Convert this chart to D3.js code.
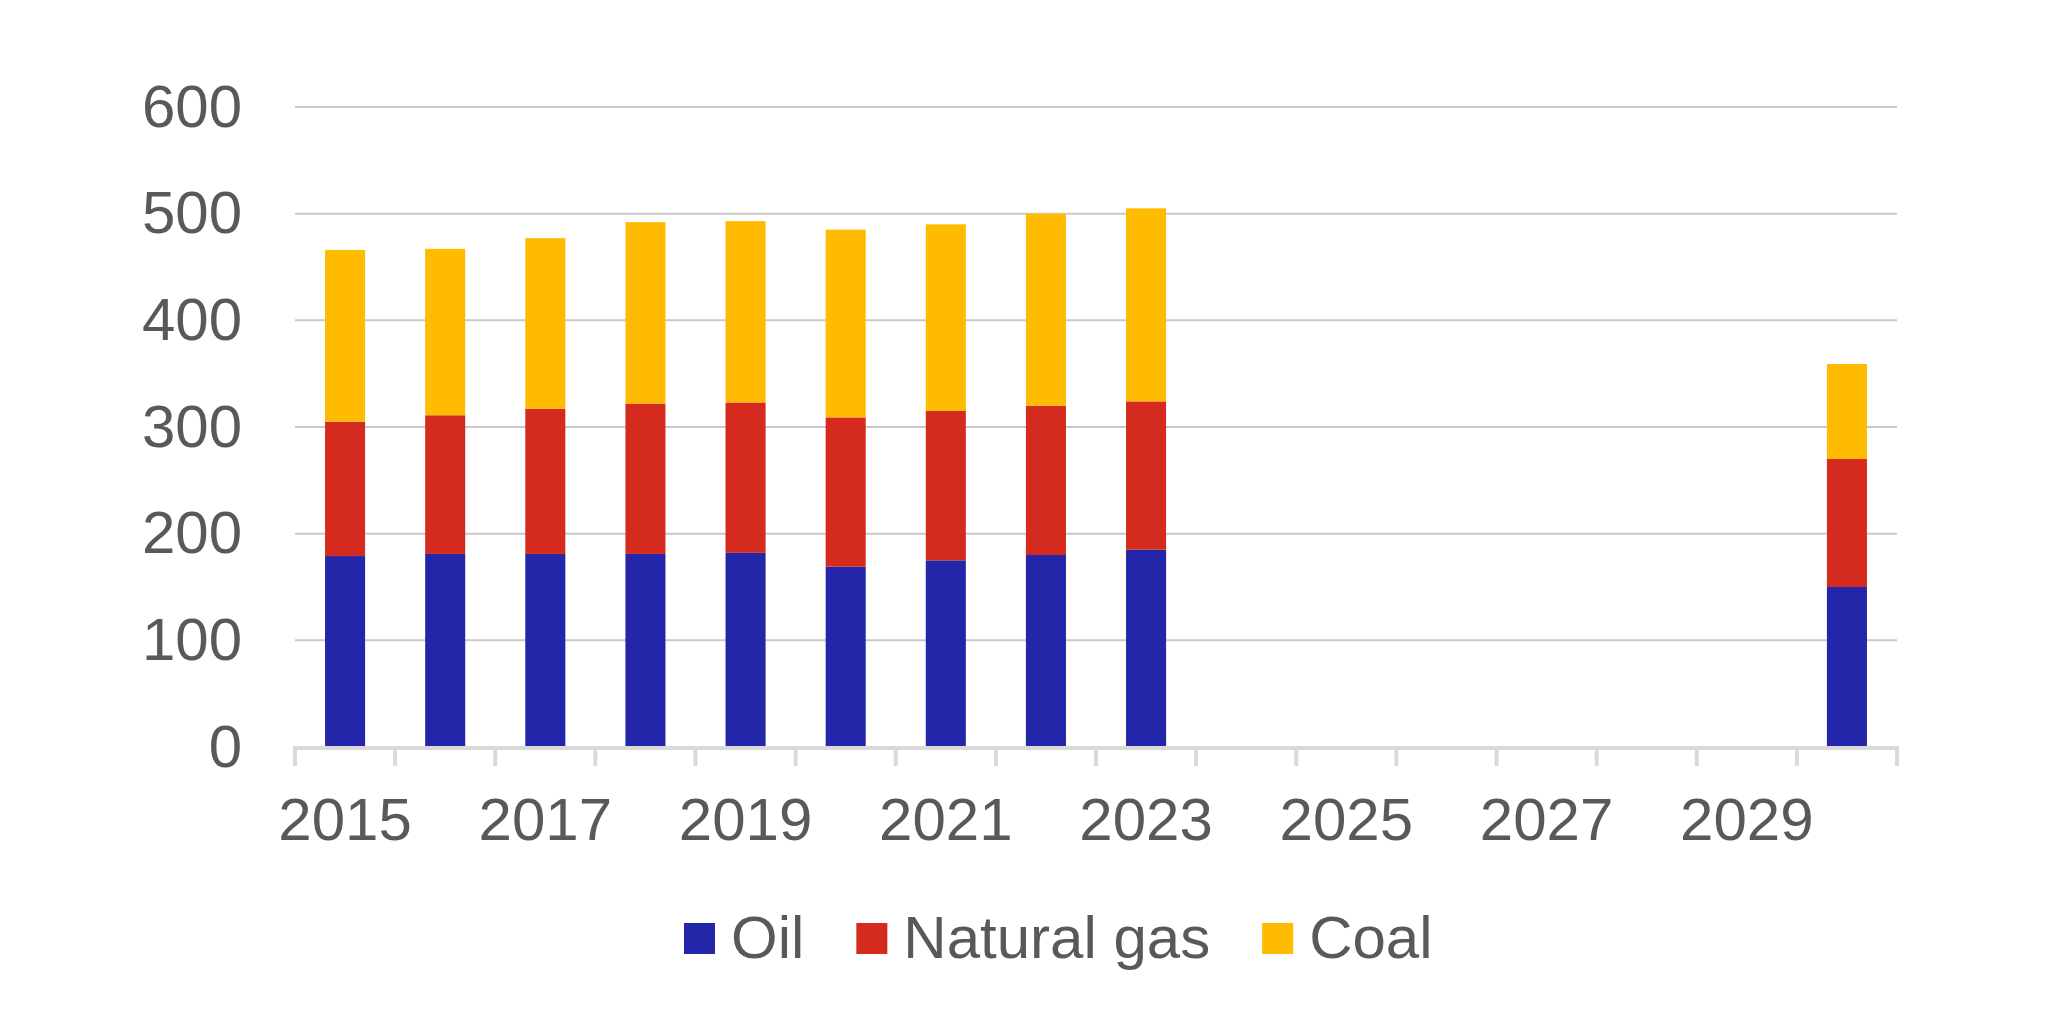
<!DOCTYPE html>
<html>
<head>
<meta charset="utf-8">
<script src="https://cdn.jsdelivr.net/npm/d3@7/dist/d3.min.js"></script>
<style>
  body { margin: 0; background: #fff; }
  svg { display: block; font-family: "Liberation Sans", Arial, sans-serif; }
</style>
</head>
<body>
<div id="chart"></div>
<script>
// Chart data.
const years = ['2015', '2016', '2017', '2018', '2019', '2020', '2021', '2022',
               '2023', '2024', '2025', '2026', '2027', '2028', '2029', '2030']
const oil = [179, 181, 181, 181, 182, 169, 175, 180, 185, null, null, null, null, null, null, 150]
const naturalGas = [126, 130, 136, 141, 141, 140, 140, 140, 139, null, null, null, null, null, null, 120]
const coal = [161, 156, 160, 170, 170, 176, 175, 180, 181, null, null, null, null, null, null, 89]
const yTicks = [0, 100, 200, 300, 400, 500, 600]
const xLabels = ['2015', '2017', '2019', '2021', '2023', '2025', '2027', '2029']

const seriesNames = ['Oil', 'Natural gas', 'Coal']
const colours = ['#2326a8', '#d52b1e', '#ffbb00']
const textColour = '#595959'

// Main frame.
const width = 2046, height = 1020
const plot = {left: 295, right: 1897, top: 107, bottom: 747}

const svg = d3.select('#chart')
  .append('svg')
    .attr('width', width)
    .attr('height', height)

// Scales.
const x = d3.scaleBand()
  .domain(years)
  .range([plot.left, plot.right])
  .paddingInner(0.6)
  .paddingOuter(0.3)

const y = d3.scaleLinear()
  .domain([0, 600])
  .range([plot.bottom, plot.top])

// Gridlines.
svg.append('g')
  .selectAll('line')
  .data(yTicks.filter(d => d > 0))
  .enter()
  .append('line')
    .attr('x1', plot.left)
    .attr('x2', plot.right)
    .attr('y1', d => y(d))
    .attr('y2', d => y(d))
    .attr('stroke', '#c9c9c9')
    .attr('stroke-width', 2)

// Stacked bars.
const rows = years.map((year, i) => ({
  year: year,
  'Oil': oil[i] || 0,
  'Natural gas': naturalGas[i] || 0,
  'Coal': coal[i] || 0
}))
const stack = d3.stack().keys(seriesNames)(rows)

svg.append('g')
  .selectAll('g')
  .data(stack)
  .enter()
  .append('g')
    .attr('fill', (d, i) => colours[i])
  .selectAll('rect')
  .data(d => d.filter(p => p[1] > p[0]))
  .enter()
  .append('rect')
    .attr('x', d => x(d.data.year))
    .attr('width', x.bandwidth())
    .attr('y', d => y(d[1]))
    .attr('height', d => y(d[0]) - y(d[1]))

// X axis: baseline and boundary ticks.
const step = x.step()
const boundaries = years.map(d => x(d) + x.bandwidth() / 2 - step / 2)
boundaries.push(plot.right)

const xAxis = svg.append('g')
xAxis.append('line')
  .attr('x1', plot.left - 2)
  .attr('x2', plot.right + 2)
  .attr('y1', plot.bottom + 1)
  .attr('y2', plot.bottom + 1)
  .attr('stroke', '#d9d9d9')
  .attr('stroke-width', 4)
xAxis.selectAll('.tick')
  .data(boundaries)
  .enter()
  .append('line')
    .attr('x1', d => d)
    .attr('x2', d => d)
    .attr('y1', plot.bottom)
    .attr('y2', plot.bottom + 19)
    .attr('stroke', '#d9d9d9')
    .attr('stroke-width', 4)

// X labels (every second year).
svg.append('g')
  .attr('transform', 'translate(0,' + plot.bottom + ')')
  .call(d3.axisBottom(x).tickValues(xLabels).tickSize(0))
  .call(g => g.select('.domain').remove())
  .call(g => g.selectAll('text')
    .attr('y', 93)
    .attr('dy', 0)
    .attr('fill', textColour)
    .style('font-size', '60px'))

// Y labels.
svg.append('g')
  .attr('transform', 'translate(242,0)')
  .call(d3.axisLeft(y).tickValues(yTicks).tickSize(0).tickPadding(0))
  .call(g => g.select('.domain').remove())
  .call(g => g.selectAll('text')
    .attr('dy', '0.32em')
    .attr('fill', textColour)
    .style('font-size', '60px'))

// Legend.
const legend = svg.append('g')
let lx = 684
seriesNames.forEach((name, i) => {
  legend.append('rect')
    .attr('x', lx)
    .attr('y', 923)
    .attr('width', 31)
    .attr('height', 31)
    .attr('fill', colours[i])
  const label = legend.append('text')
    .attr('x', lx + 47)
    .attr('y', 958)
    .attr('fill', textColour)
    .style('font-size', '60px')
    .text(name)
  lx += 47 + label.node().getComputedTextLength() + 52
})
</script>
</body>
</html>
